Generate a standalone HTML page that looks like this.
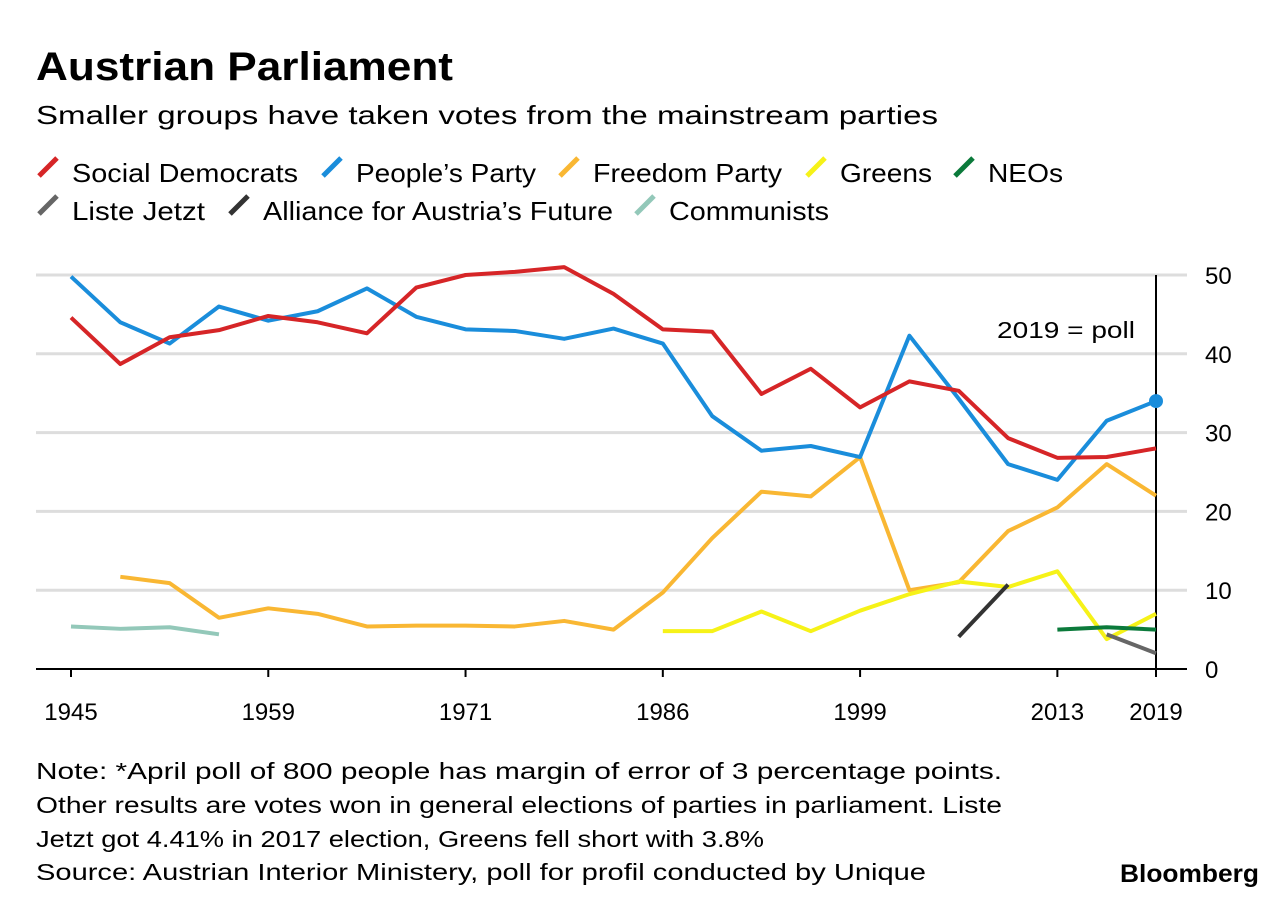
<!DOCTYPE html>
<html><head><meta charset="utf-8"><style>
body{margin:0;background:#fff;width:1287px;height:902px;overflow:hidden;font-family:"Liberation Sans",sans-serif;color:#000}
</style></head><body>
<svg width="1287" height="902">
<text x="36" y="80" font-size="40" font-weight="bold" textLength="417" lengthAdjust="spacingAndGlyphs">Austrian Parliament</text>
<text x="36" y="124" font-size="26" textLength="902" lengthAdjust="spacingAndGlyphs">Smaller groups have taken votes from the mainstream parties</text>
<g id="legend"></g>
<g id="grid"></g>
<g id="plot"></g>
<text x="997" y="338" font-size="23" textLength="138" lengthAdjust="spacingAndGlyphs">2019 = poll</text>
<g font-size="23">
<text x="36" y="779" textLength="966" lengthAdjust="spacingAndGlyphs">Note: *April poll of 800 people has margin of error of 3 percentage points.</text>
<text x="36" y="813" textLength="966" lengthAdjust="spacingAndGlyphs">Other results are votes won in general elections of parties in parliament. Liste</text>
<text x="36" y="847" textLength="728" lengthAdjust="spacingAndGlyphs">Jetzt got 4.41% in 2017 election, Greens fell short with 3.8%</text>
<text x="36" y="880" textLength="890" lengthAdjust="spacingAndGlyphs">Source: Austrian Interior Ministery, poll for profil conducted by Unique</text>
</g>
<text x="1120" y="882" font-size="25" font-weight="bold" textLength="139" lengthAdjust="spacingAndGlyphs">Bloomberg</text>
</svg>
<script>
const years=[1945,1949,1953,1956,1959,1962,1966,1970,1971,1975,1979,1983,1986,1990,1994,1995,1999,2002,2006,2008,2013,2017,2019];
const xLabels=[1945,1959,1971,1986,1999,2013,2019];
const yTicks=[0,10,20,30,40,50];
const spo=[44.6,38.7,42.1,43.0,44.8,44.0,42.6,48.4,50.0,50.4,51.0,47.6,43.1,42.8,34.9,38.1,33.2,36.5,35.3,29.3,26.8,26.9,28];
const ovp=[49.8,44.0,41.3,46.0,44.2,45.4,48.3,44.7,43.1,42.9,41.9,43.2,41.3,32.1,27.7,28.3,26.9,42.3,34.3,26.0,24.0,31.5,34];
const fpo=[null,11.7,10.9,6.5,7.7,7.0,5.4,5.5,5.5,5.4,6.1,5.0,9.7,16.6,22.5,21.9,26.9,10.0,11.0,17.5,20.5,26.0,22];
const greens=[null,null,null,null,null,null,null,null,null,null,null,null,4.8,4.8,7.3,4.8,7.4,9.5,11.1,10.4,12.4,3.8,7];
const neos=[null,null,null,null,null,null,null,null,null,null,null,null,null,null,null,null,null,null,null,null,5.0,5.3,5.0];
const jetzt=[null,null,null,null,null,null,null,null,null,null,null,null,null,null,null,null,null,null,null,null,null,4.4,2];
const bzo=[null,null,null,null,null,null,null,null,null,null,null,null,null,null,null,null,null,null,4.1,10.7,null,null,null];
const kpo=[5.4,5.1,5.3,4.4,null,null,null,null,null,null,null,null,null,null,null,null,null,null,null,null,null,null,null];
const NS="http://www.w3.org/2000/svg";
const x=i=>71+i*(1156-71)/(years.length-1);
const y=v=>669-v*(669-275)/50;
function mk(t,a,p){const e=document.createElementNS(NS,t);for(const k in a)e.setAttribute(k,a[k]);p.appendChild(e);return e;}
const grid=document.getElementById('grid'),plot=document.getElementById('plot'),leg=document.getElementById('legend');
yTicks.forEach(v=>{
 const l=mk('line',{x1:36,x2:1187,y1:y(v),y2:y(v),stroke:v===0?'#000':'#ddd','stroke-width':v===0?2:3},grid);
 
 
 const t=mk('text',{x:1205,y:y(v)+9,'font-size':24},grid);t.textContent=v;
 
 
});
const ax=mk('line',{x1:1156,x2:1156,y1:275,y2:669,stroke:'#000','stroke-width':2},grid);


xLabels.forEach(yr=>{
 const i=years.indexOf(yr);
 mk('line',{x1:x(i),x2:x(i),y1:669,y2:677,stroke:'#000','stroke-width':2},grid);
 const t=mk('text',{x:x(i),y:720,'font-size':24,'text-anchor':'middle'},grid);t.textContent=yr;
 
 
});
const series=[
 ['communists',kpo,'#93c8b9'],['freedom-party',fpo,'#f9b733'],['greens',greens,'#f6f218'],
 ['alliance',bzo,'#333'],['liste-jetzt',jetzt,'#666'],['neos',neos,'#0b7a3b'],
 ['peoples-party',ovp,'#1a8ddb'],['social-democrats',spo,'#d62527']];
series.forEach(([n,d,c])=>{
 let p='';d.forEach((v,i)=>{if(v!=null)p+=(p?'L':'M')+x(i)+','+y(v);});
 const e=mk('path',{d:p,fill:'none',stroke:c,'stroke-width':4,'stroke-linejoin':'round'},plot);
 
 
});
const dot=mk('circle',{cx:x(22),cy:y(ovp[22]),r:7,fill:'#1a8ddb'},plot);


const legItems=[['Social Democrats','#d62527',36,173,226],["People’s Party",'#1a8ddb',320,173,180],['Freedom Party','#f9b733',557,173,189],['Greens','#f6f218',804,173,92],['NEOs','#0b7a3b',952,173,75],
['Liste Jetzt','#666',36,211,133],["Alliance for Austria’s Future",'#333',227,211,350],['Communists','#93c8b9',633,211,160]];
legItems.forEach(([t,c,lx,ly,w])=>{
 const g=mk('g',{},leg);
 
 
 mk('line',{x1:lx+3,y1:ly+3,x2:lx+21,y2:ly-15,stroke:c,'stroke-width':5},g);
 const tx=mk('text',{x:lx+36,y:ly+9,'font-size':26,textLength:w,lengthAdjust:'spacingAndGlyphs'},g);tx.textContent=t;
});
</script>
</body></html>
